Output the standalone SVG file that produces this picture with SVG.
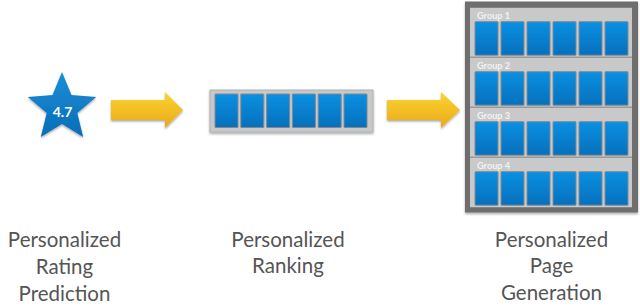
<svg xmlns="http://www.w3.org/2000/svg" width="640" height="307" viewBox="0 0 640 307">
  <defs>
    <linearGradient id="blue" x1="0" y1="0" x2="0" y2="1">
      <stop offset="0" stop-color="#0a90e2"/>
      <stop offset="1" stop-color="#0670bc"/>
    </linearGradient>
    <linearGradient id="starBlue" x1="0" y1="0" x2="0" y2="1">
      <stop offset="0" stop-color="#1a8fd8"/>
      <stop offset="1" stop-color="#0a6cb6"/>
    </linearGradient>
    <linearGradient id="gold" x1="0" y1="0" x2="0" y2="1">
      <stop offset="0" stop-color="#fbd530"/>
      <stop offset="1" stop-color="#eaa81a"/>
    </linearGradient>
    <filter id="shadow" x="-20%" y="-20%" width="140%" height="150%">
      <feDropShadow dx="0" dy="1.5" stdDeviation="1.2" flood-color="#000" flood-opacity="0.35"/>
    </filter>
    <rect id="cell" width="23" height="33.5" rx="0.5"/>
  </defs>
  <style>
    .cell { fill: url(#blue); stroke: #7f8a94; stroke-width: 1; }
    .label { font-family: Lato, "Open Sans", "DejaVu Sans", sans-serif; font-size: 20.5px; fill: #555555; text-anchor: middle; }
    .grp { font-family: Lato, "DejaVu Sans", sans-serif; font-size: 9.2px; font-weight: bold; fill: #f2f2f2; }
    .row { fill: #c9c9c9; }
    .arrow { fill: url(#gold); filter: url(#shadow); }
  </style>
  <rect width="640" height="307" fill="#ffffff"/>

  <g id="rating">
    <polygon filter="url(#shadow)" fill="url(#starBlue)" points="62,72 71.5,95 96.2,96.9 77.3,112.9 83.2,137.1 62,124 40.8,137.1 46.7,112.9 27.8,96.9 52.5,95"/>
    <text x="62.5" y="116.5" text-anchor="middle" font-family="Lato, 'DejaVu Sans', sans-serif" font-size="14" font-weight="bold" fill="#ffffff">4.7</text>
    <text class="label" x="64.5" y="247">Personalized</text>
    <text class="label" x="64.5" y="274">Rating</text>
    <text class="label" x="64.5" y="301">Prediction</text>
  </g>

  <g id="connectors">
    <polygon class="arrow" points="111,100 165,100 165,92 183,110 165,128 165,120 111,120"/>
    <polygon class="arrow" points="387,100 441,100 441,92 460,110 441,128 441,120 387,120"/>
  </g>

  <g id="ranking">
    <rect x="210" y="90" width="163" height="42" fill="#c8c8c8" stroke="#b0b0b0" stroke-width="1" filter="url(#shadow)"/>
    <use href="#cell" class="cell" x="215" y="94"/>
    <use href="#cell" class="cell" x="240.8" y="94"/>
    <use href="#cell" class="cell" x="266.6" y="94"/>
    <use href="#cell" class="cell" x="292.4" y="94"/>
    <use href="#cell" class="cell" x="318.2" y="94"/>
    <use href="#cell" class="cell" x="344" y="94"/>
    <text class="label" x="288" y="247">Personalized</text>
    <text class="label" x="288" y="273">Ranking</text>
  </g>

  <g id="page">
    <rect x="465" y="1.5" width="173" height="211" fill="#6e6e6e" filter="url(#shadow)"/>
    <rect x="470" y="7.5" width="162" height="200" fill="#9a9a9a"/>
    <g id="group1">
      <rect class="row" x="470" y="8" width="162" height="48.5"/>
      <text class="grp" x="477" y="18.5">Group 1</text>
      <use href="#cell" class="cell" x="475" y="21.7"/>
      <use href="#cell" class="cell" x="501" y="21.7"/>
      <use href="#cell" class="cell" x="527" y="21.7"/>
      <use href="#cell" class="cell" x="553" y="21.7"/>
      <use href="#cell" class="cell" x="579" y="21.7"/>
      <use href="#cell" class="cell" x="605" y="21.7"/>
    </g>
    <g id="group2">
      <rect class="row" x="470" y="58" width="162" height="48.5"/>
      <text class="grp" x="477" y="68.5">Group 2</text>
      <use href="#cell" class="cell" x="475" y="71.7"/>
      <use href="#cell" class="cell" x="501" y="71.7"/>
      <use href="#cell" class="cell" x="527" y="71.7"/>
      <use href="#cell" class="cell" x="553" y="71.7"/>
      <use href="#cell" class="cell" x="579" y="71.7"/>
      <use href="#cell" class="cell" x="605" y="71.7"/>
    </g>
    <g id="group3">
      <rect class="row" x="470" y="108" width="162" height="48.5"/>
      <text class="grp" x="477" y="118.5">Group 3</text>
      <use href="#cell" class="cell" x="475" y="121.7"/>
      <use href="#cell" class="cell" x="501" y="121.7"/>
      <use href="#cell" class="cell" x="527" y="121.7"/>
      <use href="#cell" class="cell" x="553" y="121.7"/>
      <use href="#cell" class="cell" x="579" y="121.7"/>
      <use href="#cell" class="cell" x="605" y="121.7"/>
    </g>
    <g id="group4">
      <rect class="row" x="470" y="158" width="162" height="49"/>
      <text class="grp" x="477" y="168.5">Group 4</text>
      <use href="#cell" class="cell" x="475" y="171.7"/>
      <use href="#cell" class="cell" x="501" y="171.7"/>
      <use href="#cell" class="cell" x="527" y="171.7"/>
      <use href="#cell" class="cell" x="553" y="171.7"/>
      <use href="#cell" class="cell" x="579" y="171.7"/>
      <use href="#cell" class="cell" x="605" y="171.7"/>
    </g>
    <text class="label" x="551.5" y="247">Personalized</text>
    <text class="label" x="551.5" y="273">Page</text>
    <text class="label" x="551.5" y="300">Generation</text>
  </g>
</svg>
